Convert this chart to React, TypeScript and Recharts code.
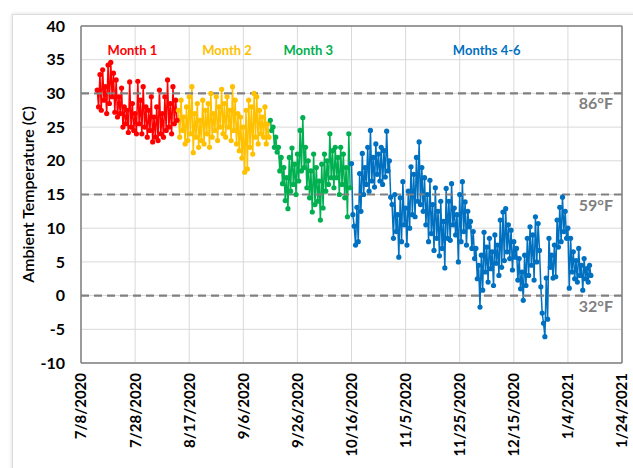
import React from 'react';
import {
  LineChart,
  Line,
  XAxis,
  YAxis,
  CartesianGrid,
  ReferenceLine,
  ReferenceDot,
  Label,
} from 'recharts';

// x axis tick dates (20 day steps)
const tickDates = [
  '7/8/2020', '7/28/2020', '8/17/2020', '9/6/2020', '9/26/2020', '10/16/2020',
  '11/5/2020', '11/25/2020', '12/15/2020', '1/4/2021', '1/24/2021',
];
const yTicks = [-10, -5, 0, 5, 10, 15, 20, 25, 30, 35, 40];

// two readings a day (high, low), starting on the given date
const readingsPerDay = 2;

const month1Start = '7/14/2020';
const month1Temps = [
  30.5, 28.0, 32.8, 27.5, 33.5, 29.0, 31.0, 27.0, 34.2, 28.5,
  34.6, 29.5, 33.0, 27.2, 32.0, 26.5, 29.5, 27.0, 30.8, 25.0,
  28.0, 25.5, 27.5, 24.2, 31.7, 25.0, 28.5, 24.5, 27.0, 24.0,
  31.8, 25.5, 29.0, 24.0, 31.0, 25.0, 28.0, 23.5, 27.5, 24.5,
  29.5, 22.8, 26.5, 23.5, 28.0, 23.0, 30.5, 24.0, 27.0, 23.5,
  29.5, 24.5, 32.0, 25.0, 28.5, 24.0, 31.0, 25.5, 29.0, 26.0,
];

const month2Start = '8/13/2020';
const month2Temps = [
  27.5, 23.5, 29.0, 24.5, 26.5, 22.5, 28.0, 23.0, 29.5, 24.0,
  31.0, 21.2, 27.0, 23.5, 28.5, 22.0, 26.0, 23.0, 29.0, 22.5,
  27.5, 24.0, 28.5, 22.0, 30.0, 23.5, 27.0, 24.5, 29.5, 23.0,
  28.0, 25.0, 30.6, 24.0, 28.5, 23.5, 29.5, 25.0, 27.5, 23.0,
  31.0, 24.5, 29.0, 22.5, 27.0, 21.5, 26.5, 20.4, 25.0, 18.3,
  27.5, 18.8, 29.0, 22.0, 28.0, 21.0, 30.0, 23.5, 29.5, 22.5,
  27.5, 24.0, 26.5, 23.5, 28.0, 22.5, 25.5, 23.5,
];

const month3Start = '9/16/2020';
const month3Temps = [
  26.0, 24.5, 25.0, 22.0, 23.5, 21.3, 22.0, 18.5, 20.5, 16.6,
  19.0, 14.1, 17.5, 12.9, 20.5, 15.5, 21.9, 16.5, 19.5, 15.0,
  21.0, 17.0, 24.5, 18.5, 26.4, 19.0, 22.0, 16.0, 20.0, 14.5,
  18.5, 12.4, 21.0, 13.5, 19.0, 14.0, 17.0, 11.2, 19.5, 13.0,
  21.0, 15.5, 20.0, 16.5, 24.0, 17.5, 21.5, 16.0, 22.0, 17.5,
  20.5, 15.0, 22.0, 16.5, 21.0, 14.5, 19.0, 11.7, 24.0, 16.0,
];

const month46Start = '10/16/2020';
const month46Temps = [
  19.6, 12.0, 10.3, 7.5, 13.1, 8.0, 18.1, 12.5, 21.1, 15.0,
  19.0, 16.5, 22.0, 15.5, 24.5, 17.0, 20.5, 16.1, 22.5, 18.0,
  21.0, 17.0, 22.0, 16.5, 21.5, 17.6, 24.4, 18.5, 20.0, 14.6,
  13.5, 8.5, 15.0, 9.5, 12.0, 5.7, 14.5, 8.0, 16.9, 10.5,
  13.0, 7.5, 15.5, 10.0, 19.1, 12.0, 18.0, 11.7, 20.5, 14.0,
  22.8, 13.5, 19.0, 12.5, 17.5, 10.5, 15.0, 8.0, 17.1, 9.2,
  13.5, 6.7, 16.0, 8.5, 12.5, 5.9, 14.0, 7.0, 11.0, 4.1,
  15.9, 8.5, 14.0, 8.2, 16.6, 10.5, 13.0, 9.0, 12.0, 5.0,
  15.0, 8.0, 16.9, 9.5, 13.9, 7.5, 12.5, 10.2, 11.0, 7.0,
  9.5, 5.5, 7.0, 2.5, 4.5, -1.7, 6.0, 0.8, 9.4, 3.5,
  7.2, 2.0, 8.5, 4.0, 6.5, 1.5, 9.0, 4.8, 7.5, 3.0,
  11.2, 4.2, 12.4, 5.2, 12.9, 6.5, 10.5, 5.5, 9.7, 3.8,
  8.0, 5.7, 7.0, 2.3, 5.5, 1.0, 3.5, -0.7, 6.0, 1.5,
  8.5, 3.0, 10.2, 4.5, 9.0, 2.3, 11.7, 5.0, 10.7, 6.7,
  1.3, -2.6, -4.1, -6.1, 2.6, -3.5, 8.5, 4.2, 6.0, 2.6,
  7.5, 2.8, 11.2, 7.2, 13.1, 8.0, 14.6, 9.5, 12.5, 8.5,
  10.0, 1.1, 8.5, 3.5, 6.5, 2.5, 5.2, 2.0, 7.0, 3.0,
  4.5, 0.8, 5.5, 2.5, 4.0, 2.0, 4.5, 3.0,
];

// reference temperatures and their Fahrenheit labels
const refTemps = [30, 15, 0];
const refLabels = ['86°F', '59°F', '32°F'];

// period labels
const periodNames = ['Month 1', 'Month 2', 'Month 3', 'Months 4-6'];
const periodLabelDates = ['7/27/2020', '8/31/2020', '9/30/2020', '12/5/2020'];
const periodLabelTemp = 36.5;

const colors = ['#FF0000', '#FFC000', '#00B050', '#0070C0'];
const font = 'Lato, "Open Sans", sans-serif';

const dayNum = (s: string) => {
  const [m, d, y] = s.split('/').map(Number);
  return Date.UTC(y, m - 1, d) / 86400000;
};
const origin = dayNum(tickDates[0]);
const toX = (s: string) => dayNum(s) - origin;

const buildSeries = (start: string, temps: number[]) =>
  temps.map((v, i) => ({ t: toX(start) + i / readingsPerDay, v }));

const series = [
  buildSeries(month1Start, month1Temps),
  buildSeries(month2Start, month2Temps),
  buildSeries(month3Start, month3Temps),
  buildSeries(month46Start, month46Temps),
];

const xTicks = tickDates.map(toX);
const tickLabel = new Map(xTicks.map((x, i) => [x, tickDates[i]]));

const XTick = (props: any) => {
  const { x, y, payload } = props;
  return (
    <g transform={`translate(${x},${y})`}>
      <text
        transform="rotate(-90)"
        textAnchor="end"
        dy="0.36em"
        fontFamily={font}
        fontWeight="bold"
        fontSize={15}
        fill="#000"
      >
        {tickLabel.get(payload.value)}
      </text>
    </g>
  );
};

export default function App() {
  return (
    <div style={{ position: 'absolute', left: 0, top: 0, width: 633, height: 468, background: '#fff' }}>
      <div
        style={{
          position: 'absolute',
          left: 12,
          top: 14,
          width: 640,
          height: 470,
          border: '1px solid #dcdcdc',
          boxShadow: '0 0 4px rgba(0,0,0,0.15)',
        }}
      />
      <div style={{ position: 'absolute', left: 0, top: 0 }}>
        <LineChart width={633} height={468} margin={{ top: 26, right: 11, left: 0, bottom: 0 }}>
          <CartesianGrid stroke="#d9d9d9" strokeWidth={1} />
          <XAxis
            type="number"
            dataKey="t"
            domain={[xTicks[0], xTicks[xTicks.length - 1]]}
            ticks={xTicks}
            interval={0}
            height={105}
            tickLine={false}
            axisLine={{ stroke: '#808080', strokeWidth: 1.5 }}
            tick={<XTick />}
            tickMargin={4}
          />
          <YAxis
            type="number"
            domain={[-10, 40]}
            ticks={yTicks}
            interval={0}
            width={81}
            tickLine={false}
            tickMargin={10}
            axisLine={{ stroke: '#808080', strokeWidth: 1.5 }}
            tick={{ fill: '#000', fontSize: 16, fontWeight: 'bold', fontFamily: font }}
          >
            <Label
              content={({ viewBox }: any) => {
                const cy = viewBox.y + viewBox.height / 2;
                return (
                  <text
                    x={27}
                    y={cy}
                    transform={`rotate(-90, 27, ${cy})`}
                    textAnchor="middle"
                    dominantBaseline="central"
                    fontFamily={font}
                    fontSize={16}
                    fontWeight={600}
                    fill="#000"
                  >
                    Ambient Temperature (C)
                  </text>
                );
              }}
            />
          </YAxis>
          <ReferenceLine y={40} stroke="#808080" strokeWidth={1.5} />
          <ReferenceLine x={xTicks[xTicks.length - 1]} stroke="#808080" strokeWidth={1.5} />
          {series.map((data, i) => (
            <Line
              key={periodNames[i]}
              data={data}
              dataKey="v"
              type="linear"
              stroke={colors[i]}
              strokeWidth={1.5}
              dot={{ r: 2.6, fill: colors[i], stroke: colors[i], strokeWidth: 0 }}
              activeDot={false}
              isAnimationActive={false}
            />
          ))}
          {refTemps.map((v, i) => (
            <ReferenceLine
              key={refLabels[i]}
              y={v}
              stroke="#808080"
              strokeWidth={2.2}
              strokeDasharray="8 5"
              label={(p: any) => (
                <text
                  x={p.viewBox.x + p.viewBox.width - 9}
                  y={p.viewBox.y + 16}
                  textAnchor="end"
                  fontFamily={font}
                  fontWeight="bold"
                  fontSize={16}
                  fill="#7f7f7f"
                >
                  {refLabels[i]}
                </text>
              )}
            />
          ))}
          {periodNames.map((name, i) => (
            <ReferenceDot
              key={name}
              x={toX(periodLabelDates[i])}
              y={periodLabelTemp}
              r={0}
              fill="none"
              stroke="none"
              label={(p: any) => (
                <text
                  x={p.viewBox.x + p.viewBox.width / 2}
                  y={p.viewBox.y + p.viewBox.height / 2}
                  textAnchor="middle"
                  dominantBaseline="central"
                  fontFamily={font}
                  fontWeight="bold"
                  fontSize={13}
                  fill={colors[i]}
                >
                  {name}
                </text>
              )}
            />
          ))}
        </LineChart>
      </div>
    </div>
  );
}
